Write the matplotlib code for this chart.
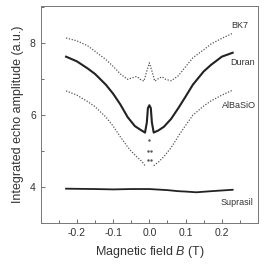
import matplotlib
matplotlib.use("Agg")
import matplotlib.pyplot as plt
from matplotlib.ticker import MultipleLocator

plt.rcParams['font.family'] = ['Liberation Sans', 'DejaVu Sans']
plt.rcParams['mathtext.fontset'] = 'custom'
plt.rcParams['mathtext.it'] = 'Liberation Sans:italic'
plt.rcParams['mathtext.rm'] = 'Liberation Sans'

# данные
bk7_x = [-0.23, -0.2, -0.17, -0.15, -0.12, -0.1, -0.08, -0.06, -0.045, -0.035, -0.025,
         -0.015, -0.008, 0.0, 0.008, 0.015, 0.025, 0.035, 0.045, 0.06, 0.08, 0.1,
         0.12, 0.15, 0.17, 0.2, 0.23]
bk7_y = [8.15, 8.07, 7.93, 7.78, 7.55, 7.36, 7.15, 7.0, 7.05, 7.08, 7.0,
         6.95, 7.2, 7.46, 7.2, 6.95, 7.02, 7.07, 7.0, 6.96, 7.1, 7.35,
         7.6, 7.82, 7.98, 8.14, 8.28]

duran_x = [-0.23, -0.2, -0.17, -0.15, -0.12, -0.1, -0.08, -0.06, -0.04, -0.025, -0.012,
           -0.007, -0.004, 0.0, 0.004, 0.007, 0.012, 0.025, 0.04, 0.06, 0.08, 0.1,
           0.12, 0.15, 0.17, 0.2, 0.23]
duran_y = [7.63, 7.5, 7.3, 7.15, 6.85, 6.6, 6.3, 5.95, 5.7, 5.6, 5.52,
           5.8, 6.2, 6.28, 6.2, 5.8, 5.52, 5.58, 5.68, 5.9, 6.2, 6.52,
           6.85, 7.22, 7.4, 7.63, 7.74]

albasio_x = [-0.23, -0.2, -0.17, -0.15, -0.12, -0.1, -0.08, -0.06, -0.05, -0.035, -0.02,
             -0.012, -0.005, -0.005, 0.0, 0.005, 0.005, 0.012, 0.025, 0.04, 0.06, 0.08,
             0.1, 0.12, 0.15, 0.17, 0.2, 0.23]
albasio_y = [6.68, 6.56, 6.38, 6.24, 5.95, 5.7, 5.4, 5.12, 5.0, 4.85, 4.71,
             4.6, 4.75, 5.0, 5.3, 5.0, 4.75, 4.6, 4.7, 4.85, 5.1, 5.42,
             5.72, 6.0, 6.26, 6.4, 6.56, 6.7]

suprasil_x = [-0.23, -0.15, -0.1, -0.05, 0.0, 0.05, 0.08, 0.1, 0.13, 0.17, 0.2, 0.23]
suprasil_y = [3.96, 3.95, 3.94, 3.95, 3.95, 3.92, 3.89, 3.88, 3.86, 3.89, 3.91, 3.93]

names = ["BK7", "Duran", "AlBaSiO", "Suprasil"]
label_x = [0.25, 0.256, 0.248, 0.242]
label_y = [8.5, 7.48, 6.28, 3.58]

fig = plt.figure(figsize=(2.66, 2.67), dpi=100)
ax = fig.add_axes([0.153, 0.164, 0.817, 0.815])

dots = (0, (1, 1.3))
ax.plot(bk7_x, bk7_y, ls=dots, lw=0.9, color='#555555')
ax.plot(duran_x, duran_y, ls='-', lw=1.5, color='#222222')
ax.plot(albasio_x[:12], albasio_y[:12], ls=dots, lw=0.9, color='#555555')
ax.plot(albasio_x[12:17], albasio_y[12:17], ls='none', marker='.', ms=1.5, color='#555555')
ax.plot(albasio_x[17:], albasio_y[17:], ls=dots, lw=0.9, color='#555555')
ax.plot(suprasil_x, suprasil_y, ls='-', lw=1.3, color='#222222')

for n, lx, ly in zip(names, label_x, label_y):
    ax.text(lx, ly, n, fontsize=6.5, color='#333333', ha='center', va='center')

ax.set_xlim(-0.3, 0.3)
ax.set_ylim(3, 9.05)
ax.xaxis.set_minor_locator(MultipleLocator(0.05))
ax.yaxis.set_minor_locator(MultipleLocator(1))
ax.set_xticks([-0.2, -0.1, 0.0, 0.1, 0.2])
ax.set_xticklabels(["-0.2", "-0.1", "0.0", "0.1", "0.2"])
ax.set_yticks([4, 6, 8])
ax.tick_params(which='both', direction='in', colors='#555555', labelcolor='#333333', labelsize=7.5)
ax.tick_params(which='major', length=3, width=0.6)
ax.tick_params(which='minor', length=2, width=0.6)
for s in ax.spines.values():
    s.set_color('#777777')
    s.set_linewidth(0.7)

ax.set_xlabel("Magnetic field $B$ (T)", fontsize=9, color='#333333')
ax.set_ylabel("Integrated echo amplitude (a.u.)", fontsize=9, color='#333333')

fig.savefig("out.png", dpi=100)
